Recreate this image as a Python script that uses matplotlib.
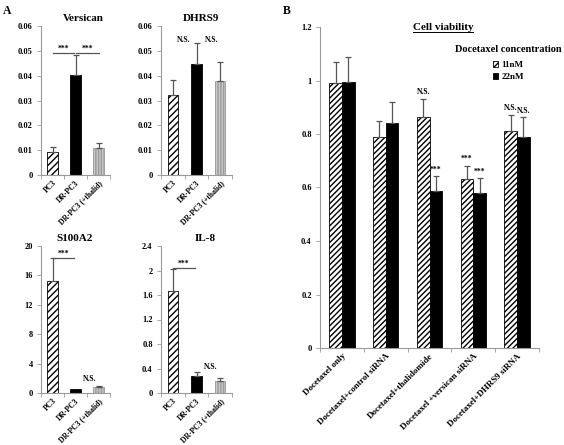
import numpy as np
import matplotlib
matplotlib.use("Agg")
import matplotlib.pyplot as plt
from matplotlib.lines import Line2D

plt.rcParams['font.family'] = ['Liberation Serif', 'DejaVu Serif']
plt.rcParams['font.weight'] = 'bold'
plt.rcParams['hatch.linewidth'] = 1.0

# panel A data
groups_a = ["PC3", "DR-PC3", "DR-PC3 (+thalid)"]
versican = [0.0094, 0.0402, 0.0107]
versican_err = [0.002, 0.008, 0.002]
dhrs9 = [0.0321, 0.0445, 0.0379]
dhrs9_err = [0.0063, 0.0087, 0.0076]
s100a2 = [15.2, 0.5, 0.82]
s100a2_err = [3.1, 0.0, 0.2]
il8 = [1.67, 0.273, 0.19]
il8_err = [0.35, 0.065, 0.05]

# panel B data
treatments = ["Docetaxel only", "Docetaxel+control siRNA", "Docetaxel+thalidomide",
              "Docetaxel +versican siRNA", "Docetaxel+DHRS9 siRNA"]
via_11 = [0.99, 0.79, 0.865, 0.631, 0.81]
via_11_err = [0.078, 0.06, 0.065, 0.049, 0.061]
via_22 = [0.993, 0.84, 0.5875, 0.58, 0.7875]
via_22_err = [0.095, 0.08, 0.057, 0.057, 0.075]
sig_11 = ["", "", "N.S.", "***", "N.S."]
sig_22 = ["", "", "***", "***", "N.S."]

W, H = 564, 445
fig = plt.figure(figsize=(W / 100, H / 100), dpi=100)

SPINE = '#999999'
ERR = '#555555'
bar_styles = [dict(color='white', edgecolor='black', hatch='/////', linewidth=0.6),
              dict(color='black', edgecolor='black', linewidth=0.6),
              dict(color='#c8c8c8', edgecolor='#9a9a9a', hatch='||||||', linewidth=0.6)]


def px_axes(l, t, r, b):
    return fig.add_axes([l / W, 1 - b / H, (r - l) / W, (b - t) / H])


def style_axis(ax, n, labels, lsize):
    for s in ['top', 'right']:
        ax.spines[s].set_visible(False)
    for s in ['left', 'bottom']:
        ax.spines[s].set_color(SPINE)
        ax.spines[s].set_linewidth(0.8)
    ax.set_xlim(-0.5, n - 0.5)
    ax.set_xticks(np.arange(n))
    ax.set_xticklabels(labels, rotation=45, ha='right', rotation_mode='anchor',
                       fontsize=lsize, fontweight='bold')
    ax.set_xticks(np.arange(n + 1) - 0.5, minor=True)
    ax.tick_params(axis='x', which='major', length=0, pad=3)
    ax.tick_params(axis='x', which='minor', length=3, color=SPINE, width=0.6)
    ax.tick_params(axis='y', length=3, color=SPINE, width=0.6, labelsize=6, pad=3)
    ax.yaxis.set_major_formatter(plt.FuncFormatter(lambda v, p: f"{v:g}"))
    for t in ax.get_yticklabels():
        t.set_fontweight('bold')


def panel_a(ax, vals, errs, title, ymax, ystep, tx):
    x = np.arange(len(vals))
    for i in range(len(vals)):
        ax.bar(x[i], vals[i], width=0.45, **bar_styles[i])
        if errs[i] > 0:
            ax.errorbar(x[i], vals[i], yerr=[[0], [errs[i]]], fmt='none',
                        ecolor=ERR, elinewidth=0.9, capsize=2.2, capthick=0.9)
    ax.set_ylim(0, ymax)
    ax.set_yticks(np.arange(0, ymax + ystep / 2, ystep))
    style_axis(ax, len(vals), groups_a, 5.5)
    ax.text(tx, 1.02, title, transform=ax.transAxes, ha='center', va='bottom',
            fontsize=8, fontweight='bold')


def bracket(ax, x0, x1, y, label):
    ax.plot([x0, x1], [y, y], color=ERR, lw=0.9)
    ax.text((x0 + x1) / 2, y, label, ha='center', va='bottom', fontsize=5.5)


ax1 = px_axes(41, 26, 110, 175)
panel_a(ax1, versican, versican_err, "Versican", 0.06, 0.01, 0.62)
bracket(ax1, 0, 0.93, 0.0493, "***")
bracket(ax1, 1.02, 2.0, 0.0493, "***")

ax2 = px_axes(161, 26, 232, 175)
panel_a(ax2, dhrs9, dhrs9_err, "DHRS9", 0.06, 0.01, 0.57)
ax2.text(0.45, 0.0545, "N.S.", ha='center', va='center', fontsize=5.5)
ax2.text(1.62, 0.0545, "N.S.", ha='center', va='center', fontsize=5.5)

ax3 = px_axes(41, 246, 110, 393)
panel_a(ax3, s100a2, s100a2_err, "S100A2", 20, 4, 0.49)
bracket(ax3, 0, 0.93, 18.35, "***")
ax3.text(1.6, 1.9, "N.S.", ha='center', va='center', fontsize=5.5)

ax4 = px_axes(161, 246, 232, 393)
panel_a(ax4, il8, il8_err, "IL-8", 2.4, 0.4, 0.62)
bracket(ax4, 0, 0.93, 2.04, "***")
ax4.text(1.6, 0.42, "N.S.", ha='center', va='center', fontsize=5.5)

# panel B
axb = px_axes(320, 27, 539, 348)
xb = np.arange(len(treatments))
bw = 0.29
axb.bar(xb - bw / 2, via_11, width=bw, color='white', edgecolor='black',
        hatch='//////', linewidth=0.6, label='11nM')
axb.bar(xb + bw / 2, via_22, width=bw, color='black', edgecolor='black',
        linewidth=0.6, label='22nM')
axb.errorbar(xb - bw / 2, via_11, yerr=[np.zeros(len(xb)), via_11_err], fmt='none',
             ecolor=ERR, elinewidth=0.9, capsize=2.5, capthick=0.9)
axb.errorbar(xb + bw / 2, via_22, yerr=[np.zeros(len(xb)), via_22_err], fmt='none',
             ecolor=ERR, elinewidth=0.9, capsize=2.5, capthick=0.9)
for i in range(len(xb)):
    if sig_11[i]:
        axb.text(xb[i] - bw / 2, via_11[i] + via_11_err[i] + 0.012, sig_11[i],
                 ha='center', va='bottom', fontsize=5.5)
    if sig_22[i]:
        axb.text(xb[i] + bw / 2, via_22[i] + via_22_err[i] + 0.008, sig_22[i],
                 ha='center', va='bottom', fontsize=5.5)
axb.set_ylim(0, 1.2)
axb.set_yticks(np.arange(0, 1.21, 0.2))
style_axis(axb, len(treatments), treatments, 6.5)

tt = axb.text(0.562, 1.0, "Cell viability", transform=axb.transAxes, ha='center',
              va='center', fontsize=8, fontweight='bold')

leg = axb.legend(loc='upper left', bbox_to_anchor=(455 / W, 1 - 45 / H),
                 bbox_transform=fig.transFigure, frameon=False,
                 title="Docetaxel concentration", fontsize=6.5,
                 handlelength=0.6, handleheight=0.6, handletextpad=0.3,
                 labelspacing=0.45, borderpad=0, borderaxespad=0)
leg.get_title().set_fontsize(7.5)
leg.get_title().set_fontweight('bold')
leg._legend_box.sep = 5
for t in leg.get_texts():
    t.set_fontweight('bold')

fig.text(3 / W, 1 - 14 / H, "A", fontsize=8.5, fontweight='bold')
fig.text(283 / W, 1 - 14 / H, "B", fontsize=8.5, fontweight='bold')

# underline for the title
fig.canvas.draw()
bb = tt.get_window_extent()
fig.add_artist(Line2D([bb.x0 / W, bb.x1 / W], [(bb.y0 - 0.5) / H] * 2,
                      transform=fig.transFigure, color='black', lw=0.7))

fig.savefig('out.png', dpi=100)
